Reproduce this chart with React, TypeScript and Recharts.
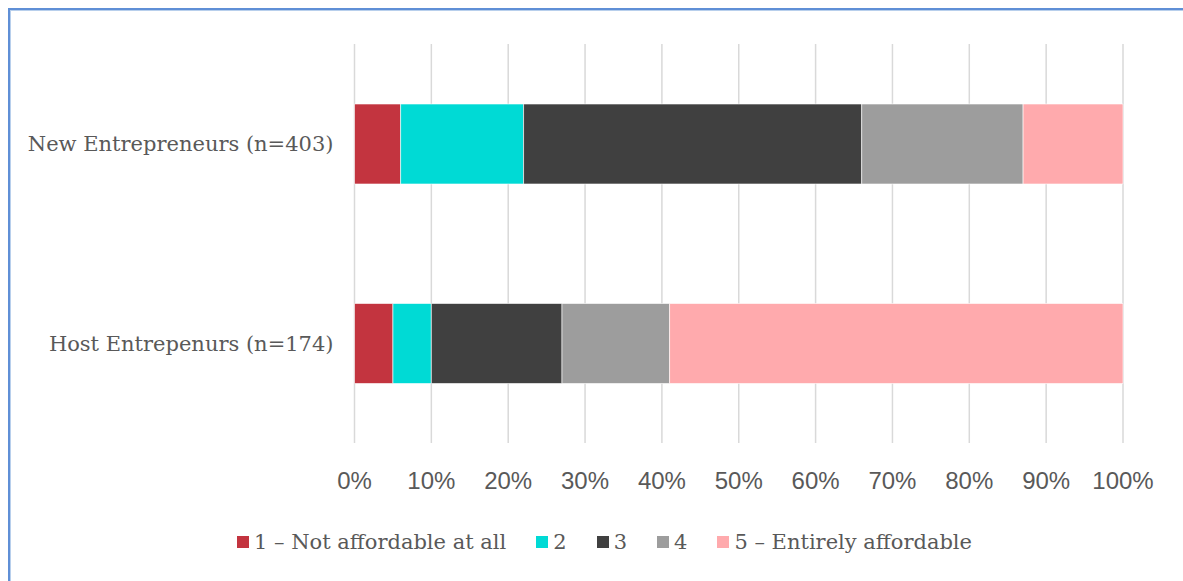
import React from 'react';
import { BarChart, Bar, XAxis, YAxis, CartesianGrid, Legend } from 'recharts';

const groups = ['New Entrepreneurs (n=403)', 'Host Entrepenurs (n=174)'];
const notAffordable = [6, 5];
const level2 = [16, 5];
const level3 = [44, 17];
const level4 = [21, 14];
const entirelyAffordable = [13, 59];
const xTicks = [0, 10, 20, 30, 40, 50, 60, 70, 80, 90, 100];

const seriesKeys = ['s1', 's2', 's3', 's4', 's5'];
const seriesNames = ['1 – Not affordable at all', '2', '3', '4', '5 – Entirely affordable'];
const seriesColors = ['#C3343F', '#00DAD5', '#404040', '#9D9D9D', '#FFAAAD'];

const data = groups.map((name, i) => ({
  name,
  s1: notAffordable[i],
  s2: level2[i],
  s3: level3[i],
  s4: level4[i],
  s5: entirelyAffordable[i],
}));

const textColor = '#595959';
const serif = '"DejaVu Serif", Georgia, serif';

const LegendContent = () => (
  <div style={{ display: 'flex', justifyContent: 'center', alignItems: 'center', fontFamily: serif, fontSize: 21, color: textColor }}>
    {seriesNames.map((n, i) => (
      <div key={n} style={{ display: 'flex', alignItems: 'center', marginRight: i < seriesNames.length - 1 ? 30 : 0 }}>
        <span style={{ display: 'inline-block', width: 12, height: 12, background: seriesColors[i], marginRight: 5 }} />
        <span>{n}</span>
      </div>
    ))}
  </div>
);

const App: React.FC = () => {
  return (
    <div style={{ position: 'fixed', inset: 0, overflow: 'hidden', background: '#fff' }}>
      <div
        style={{
          position: 'absolute',
          left: 8,
          top: 8,
          width: 1200,
          height: 600,
          border: '2px solid #5F8FD6',
          boxShadow: 'inset 0 0 0 1px #B8CFEC',
        }}
      />
      <div style={{ position: 'absolute', left: 0, top: 0 }}>
        <BarChart
          width={1183}
          height={581}
          data={data}
          layout="vertical"
          margin={{ top: 44, right: 60, left: 0, bottom: 0 }}
          barSize={80}
        >
          <CartesianGrid horizontal={false} stroke="#D9D9D9" strokeWidth={1.5} />
          <XAxis
            type="number"
            domain={[0, 100]}
            ticks={xTicks}
            tickFormatter={(v) => `${v}%`}
            axisLine={false}
            tickLine={false}
            tickSize={0}
            tickMargin={29}
            height={138}
            interval={0}
            tick={{ fill: textColor, fontSize: 24, fontFamily: '"Liberation Sans", Arial, sans-serif' }}
          />
          <YAxis
            type="category"
            dataKey="name"
            width={354.5}
            axisLine={false}
            tickLine={false}
            tickSize={0}
            tickMargin={21}
            tick={{ fill: textColor, fontSize: 21, fontFamily: serif }}
          />
          <Legend
            verticalAlign="middle"
            align="center"
            content={<LegendContent />}
            wrapperStyle={{ top: 530, left: 13, width: 1183 }}
          />
          {seriesKeys.map((k, i) => (
            <Bar
              key={k}
              dataKey={k}
              name={seriesNames[i]}
              stackId="a"
              fill={seriesColors[i]}
              stroke="#ffffff"
              strokeWidth={0.6}
              isAnimationActive={false}
            />
          ))}
        </BarChart>
      </div>
    </div>
  );
};

export default App;
